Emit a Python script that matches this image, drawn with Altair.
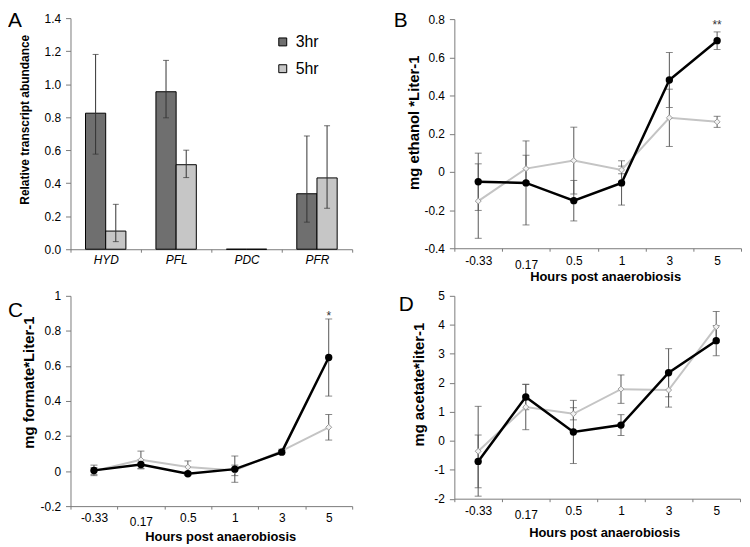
import altair as alt
import pandas as pd

FONT = "Liberation Sans"

# ---------------- Panel A: transcript abundance ----------------
genes = ["HYD", "PFL", "PDC", "PFR"]
times = ["3hr", "5hr"]
a_3hr = [0.824, 0.954, 0.0, 0.336]
a_3hr_lo = [0.576, 0.796, 0.0, 0.164]
a_3hr_hi = [1.180, 1.144, 0.0, 0.686]
a_5hr = [0.110, 0.512, 0.0, 0.432]
a_5hr_lo = [0.046, 0.434, 0.0, 0.248]
a_5hr_hi = [0.272, 0.600, 0.0, 0.748]
a_ticks = [0.0, 0.2, 0.4, 0.6, 0.8, 1.0, 1.2, 1.4]

# ---------------- Panels B-D: metabolites ----------------
hours = ["-0.33", "0.17", "0.5", "1", "3", "5"]

eth_black = [-0.052, -0.058, -0.151, -0.058, 0.481, 0.687]
eth_black_err = [0.150, 0.220, 0.106, 0.116, 0.144, 0.046]
eth_grey = [-0.153, 0.017, 0.059, 0.010, 0.283, 0.262]
eth_grey_err = [0.195, 0.070, 0.175, 0.020, 0.150, 0.029]
b_ticks = [-0.4, -0.2, 0, 0.2, 0.4, 0.6, 0.8]

form_black = [0.004, 0.038, -0.015, 0.011, 0.108, 0.648]
form_black_err = [0.030, 0.025, 0.010, 0.075, 0.010, 0.220]
form_grey = [0.000, 0.064, 0.023, 0.004, 0.115, 0.250]
form_grey_err = [0.020, 0.050, 0.035, 0.030, 0.010, 0.073]
c_ticks = [-0.2, 0, 0.2, 0.4, 0.6, 0.8, 1]

acet_black = [-0.713, 1.511, 0.303, 0.540, 2.347, 3.453]
acet_black_err = [0.910, 0.440, 1.090, 0.360, 0.830, 0.520]
acet_grey = [-0.363, 1.161, 0.930, 1.780, 1.750, 3.930]
acet_grey_err = [1.550, 0.780, 0.210, 0.490, 0.590, 0.530]
d_ticks = [-2, -1, 0, 1, 2, 3, 4, 5]

sig_marks = ["**", "*"]      # at 5 h in panels B and C
sig_y = [0.767, 0.885]
letters = ["A", "B", "C", "D"]

ERR = "#555555"
GREY_LINE = "#c4c4c4"


def letter_layer(letter, lx, ly):
    return alt.Chart(pd.DataFrame({"letter": [letter]})).mark_text(
        align="left", baseline="top", fontSize=21, font=FONT, color="black"
    ).encode(text="letter:N", x=alt.value(lx), y=alt.value(ly))


# ---------- Panel A ----------
df_a = pd.DataFrame({
    "gene": genes * 2,
    "time": ["3hr"] * 4 + ["5hr"] * 4,
    "value": a_3hr + a_5hr,
    "lo": a_3hr_lo + a_5hr_lo,
    "hi": a_3hr_hi + a_5hr_hi,
})
df_a_err = df_a[df_a["hi"] > df_a["lo"]]

xa_axis = alt.Axis(title=None, tickBand="extent", labelAngle=0, labelFontStyle="italic",
                   tickSize=3, labelPadding=2, labelOverlap=False)
xa_scale = alt.Scale(type="band", paddingInner=0, paddingOuter=0)
ya_scale = alt.Scale(domain=[0, 1.4], nice=False, zero=False)
ya_axis = alt.Axis(title="Relative transcript abundance", values=a_ticks, format=".1f",
                   titleFontSize=12, tickSize=5, labelPadding=5, titleX=-39, titleY=102)
xo = alt.XOffset("time:N", sort=times, scale=alt.Scale(paddingInner=0, paddingOuter=0.744))


def XA():
    return alt.X("gene:N", sort=genes, scale=xa_scale, axis=xa_axis)


def YA(f):
    return alt.Y(f, type="quantitative", scale=ya_scale, axis=ya_axis)


bars = alt.Chart(df_a).mark_bar(stroke="black", strokeWidth=1).encode(
    x=XA(), xOffset=xo, y=YA("value"),
    color=alt.Color("time:N", sort=times,
                    scale=alt.Scale(domain=times, range=["#6f6f6f", "#c6c6c6"]),
                    legend=alt.Legend(title=None, orient="none", legendX=206, legendY=16,
                                      symbolType="square", symbolSize=64,
                                      symbolStrokeColor="black", symbolStrokeWidth=1,
                                      labelFontSize=16, labelFont=FONT, rowPadding=11,
                                      padding=0, labelOffset=5)),
)
a_rules = alt.Chart(df_a_err).mark_rule(color="#333333", strokeWidth=1).encode(
    x=XA(), xOffset=xo, y=YA("lo"), y2="hi:Q")
a_cap_lo = alt.Chart(df_a_err).mark_tick(orient="horizontal", size=6, thickness=1, color="#333333").encode(
    x=XA(), xOffset=xo, y=YA("lo"))
a_cap_hi = alt.Chart(df_a_err).mark_tick(orient="horizontal", size=6, thickness=1, color="#333333").encode(
    x=XA(), xOffset=xo, y=YA("hi"))

panel_a = alt.layer(bars, a_rules, a_cap_lo, a_cap_hi, letter_layer(letters[0], -63, -8)).properties(
    width=284, height=233)


# ---------- line panels ----------
def line_panel(black, black_err, grey, grey_err, ytitle, ydom, yvals, w, h,
               ytx, yty, xtx, xty, letter, lx, ly, sig=None, sigy=None):
    rows = []
    for s, vals, errs in (("grey", grey, grey_err), ("black", black, black_err)):
        for hr, v, e in zip(hours, vals, errs):
            rows.append({"hour": hr, "series": s, "value": v, "lo": v - e, "hi": v + e})
    df = pd.DataFrame(rows)

    xs = alt.Scale(type="band", paddingInner=0, paddingOuter=0)
    xaxis = alt.Axis(
        title="Hours post anaerobiosis", tickBand="extent", labelAngle=0, labelOverlap=False,
        tickSize=3, labelPadding=4, titleFontSize=13, titleX=xtx, titleY=xty,
        labelBaseline={"condition": {"test": "datum.value == '0.17'", "value": "line-top"},
                       "value": "top"},
        labelLineHeight=20,
    )
    ys = alt.Scale(domain=ydom, nice=False, zero=False)
    yaxis = alt.Axis(title=ytitle, values=yvals, labelExpr="datum.value + ''",
                     titleFontSize=15, tickSize=5, labelPadding=5, titleX=ytx, titleY=yty)

    def X():
        return alt.X("hour:N", sort=hours, scale=xs, axis=xaxis, bandPosition=0.5)

    def Y(f):
        return alt.Y(f, type="quantitative", scale=ys, axis=yaxis)

    base = alt.Chart(df)
    rules = base.mark_rule(color=ERR, strokeWidth=1).encode(x=X(), y=Y("lo"), y2="hi:Q")
    cap_lo = base.mark_tick(orient="horizontal", size=7, thickness=1, color=ERR).encode(x=X(), y=Y("lo"))
    cap_hi = base.mark_tick(orient="horizontal", size=7, thickness=1, color=ERR).encode(x=X(), y=Y("hi"))
    grey_line = base.transform_filter("datum.series == 'grey'").mark_line(
        color=GREY_LINE, strokeWidth=2,
        point=alt.OverlayMarkDef(shape="diamond", filled=True, fill="#f2f2f2",
                                 stroke="#9a9a9a", strokeWidth=1, size=36),
    ).encode(x=X(), y=Y("value"))
    black_line = base.transform_filter("datum.series == 'black'").mark_line(
        color="black", strokeWidth=2.5,
        point=alt.OverlayMarkDef(shape="circle", filled=True, fill="black", size=55),
    ).encode(x=X(), y=Y("value"))
    layers = [rules, cap_lo, cap_hi, grey_line, black_line]
    if sig is not None:
        sdf = pd.DataFrame({"hour": ["5"], "mark": [sig], "y": [sigy]})
        layers.append(alt.Chart(sdf).mark_text(fontSize=12, color="#333333", baseline="middle").encode(
            x=X(), y=Y("y"), text="mark:N"))
    layers.append(letter_layer(letter, lx, ly))
    return alt.layer(*layers).properties(width=w, height=h)


panel_b = line_panel(eth_black, eth_black_err, eth_grey, eth_grey_err, "mg ethanol *Liter-1",
                     [-0.4, 0.8], b_ticks, 289, 231, -33, 104, 152, 23, letters[1], -61, -9,
                     sig_marks[0], sig_y[0])
panel_c = line_panel(form_black, form_black_err, form_grey, form_grey_err, "mg formate*Liter-1",
                     [-0.2, 1.0], c_ticks, 284, 212, -34, 87, 151, 25, letters[2], -63, 4,
                     sig_marks[1], sig_y[1])
panel_d = line_panel(acet_black, acet_black_err, acet_grey, acet_grey_err, "mg acetate*liter-1",
                     [-2, 5], d_ticks, 288, 204.5, -28, 89, 151, 28, letters[3], -56, -2)

chart = alt.concat(
    panel_a, panel_b, panel_c, panel_d,
    columns=2, spacing={"row": 47, "column": 103}, bounds="flush", align="each", center=True,
).resolve_scale(
    x="independent", y="independent", color="independent"
).resolve_legend(color="independent").properties(padding=0).configure(
    font=FONT
).configure_view(stroke=None).configure_axis(
    grid=False, domainColor="#7a7a7a", tickColor="#7a7a7a", domainWidth=1, tickWidth=1,
    labelColor="black", titleColor="black", labelFont=FONT, titleFont=FONT,
    labelFontSize=12, titleFontWeight="bold",
)

chart.save("out.html", embed_options={"renderer": "svg", "actions": False})
